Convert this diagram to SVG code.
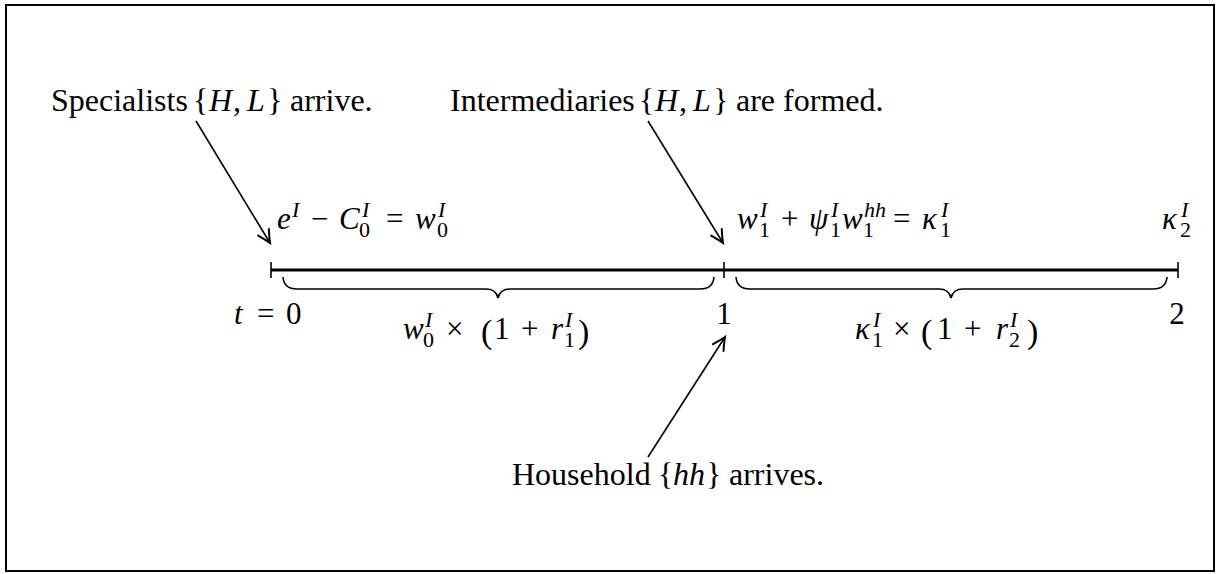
<svg xmlns="http://www.w3.org/2000/svg" width="1216" height="574" viewBox="0 0 1216 574">
<style>
.t{font-family:"Liberation Serif","Times New Roman",serif;font-size:31px;fill:#000}
.p{font-size:32px}
.i{font-style:italic}
.s{font-size:22px}
.b{font-size:34px}
.ln{stroke:#000;fill:none}
</style>
<defs>
<marker id="ah" markerUnits="userSpaceOnUse" markerWidth="20" markerHeight="20" viewBox="-12 -8 14 16" refX="0" refY="0" orient="auto">
<path d="M-10,-5 Q-3,-1.2 0,0 Q-3,1.2 -10,5" fill="none" stroke="#000" stroke-width="1.6" stroke-linecap="round"/>
</marker>
</defs>
<rect x="6" y="5" width="1208" height="566" fill="#fff" stroke="#000" stroke-width="2"/>

<g id="timeline">
<line class="ln" x1="271" y1="270" x2="1178" y2="270" stroke-width="3.2"/>
<line class="ln" x1="271" y1="262" x2="271" y2="278" stroke-width="1.6"/>
<line class="ln" x1="724" y1="262" x2="724" y2="278" stroke-width="1.6"/>
<line class="ln" x1="1178" y1="262" x2="1178" y2="278" stroke-width="1.6"/>
</g>

<g id="brace1">
<path class="ln" stroke-width="1.6" d="M283,277 Q284,289 297,289 L486,289 Q496,289 498,298 Q500,289 510,289 L700,289 Q713,289 714,277"/>
<text class="t" y="339"><tspan class="i" x="403">w</tspan><tspan class="s i" x="425" y="327">I</tspan><tspan class="s" x="423" y="347">0</tspan><tspan x="446" y="339">×</tspan><tspan class="b" x="481" y="343">(</tspan><tspan x="494" y="339">1</tspan><tspan x="521">+</tspan><tspan class="i" x="551">r</tspan><tspan class="s i" x="565" y="327">I</tspan><tspan class="s" x="564" y="347">1</tspan><tspan class="b" x="578" y="343">)</tspan></text>
</g>

<g id="brace2">
<path class="ln" stroke-width="1.6" d="M736,277 Q737,289 750,289 L939,289 Q949,289 951,298 Q953,289 963,289 L1153,289 Q1166,289 1167,277"/>
<text class="t" y="339"><tspan class="i" x="855">κ</tspan><tspan class="s i" x="873" y="327">I</tspan><tspan class="s" x="872" y="347">1</tspan><tspan x="893" y="339">×</tspan><tspan class="b" x="921" y="343">(</tspan><tspan x="937" y="339">1</tspan><tspan x="964">+</tspan><tspan class="i" x="996">r</tspan><tspan class="s i" x="1010" y="327">I</tspan><tspan class="s" x="1009" y="347">2</tspan><tspan class="b" x="1027" y="343">)</tspan></text>
</g>

<g id="tick-labels">
<text class="t" y="324"><tspan class="i" x="234">t</tspan><tspan x="257">=</tspan><tspan x="286">0</tspan></text>
<text class="t" x="724" y="324" text-anchor="middle">1</text>
<text class="t" x="1177" y="324" text-anchor="middle">2</text>
</g>

<g id="eq0">
<text class="t" y="229"><tspan class="i" x="277">e</tspan><tspan class="s i" x="292" y="217">I</tspan><tspan x="311" y="229">−</tspan><tspan class="i" x="339">C</tspan><tspan class="s i" x="362" y="217">I</tspan><tspan class="s" x="359" y="237">0</tspan><tspan x="386" y="229">=</tspan><tspan class="i" x="415">w</tspan><tspan class="s i" x="438" y="217">I</tspan><tspan class="s" x="437" y="237">0</tspan></text>
</g>

<g id="eq1">
<text class="t" y="229"><tspan class="i" x="737">w</tspan><tspan class="s i" x="760" y="217">I</tspan><tspan class="s" x="759" y="237">1</tspan><tspan x="781" y="229">+</tspan><tspan class="i" x="809">ψ</tspan><tspan class="s i" x="831" y="217">I</tspan><tspan class="s" x="830" y="237">1</tspan><tspan class="i" x="842" y="229">w</tspan><tspan class="s i" x="864" y="217">hh</tspan><tspan class="s" x="863" y="237">1</tspan><tspan x="893" y="229">=</tspan><tspan class="i" x="922">κ</tspan><tspan class="s i" x="941" y="217">I</tspan><tspan class="s" x="940" y="237">1</tspan></text>
</g>

<g id="eq2">
<text class="t" y="229"><tspan class="i" x="1162">κ</tspan><tspan class="s i" x="1181" y="217">I</tspan><tspan class="s" x="1180" y="237">2</tspan></text>
</g>

<g id="specialists">
<text class="t p" y="111"><tspan x="51">Specialists</tspan><tspan x="193">{</tspan><tspan class="i" x="209">H</tspan><tspan x="233">,</tspan><tspan class="i" x="247">L</tspan><tspan x="267">}</tspan><tspan x="290">arrive.</tspan></text>
</g>
<g id="intermediaries">
<text class="t p" y="111"><tspan x="450">Intermediaries</tspan><tspan x="639">{</tspan><tspan class="i" x="655">H</tspan><tspan x="679">,</tspan><tspan class="i" x="693">L</tspan><tspan x="713">}</tspan><tspan x="736">are formed.</tspan></text>
</g>
<g id="household">
<text class="t p" y="485"><tspan x="512">Household</tspan><tspan x="658">{</tspan><tspan class="i" x="673">hh</tspan><tspan x="706">}</tspan><tspan x="729">arrives.</tspan></text>
</g>

<g id="connectors">
<line class="ln" stroke-width="1.6" x1="196" y1="121" x2="270" y2="243" marker-end="url(#ah)"/>
<line class="ln" stroke-width="1.6" x1="648" y1="121" x2="723" y2="243" marker-end="url(#ah)"/>
<line class="ln" stroke-width="1.6" x1="648" y1="457" x2="725" y2="337" marker-end="url(#ah)"/>
</g>
</svg>
